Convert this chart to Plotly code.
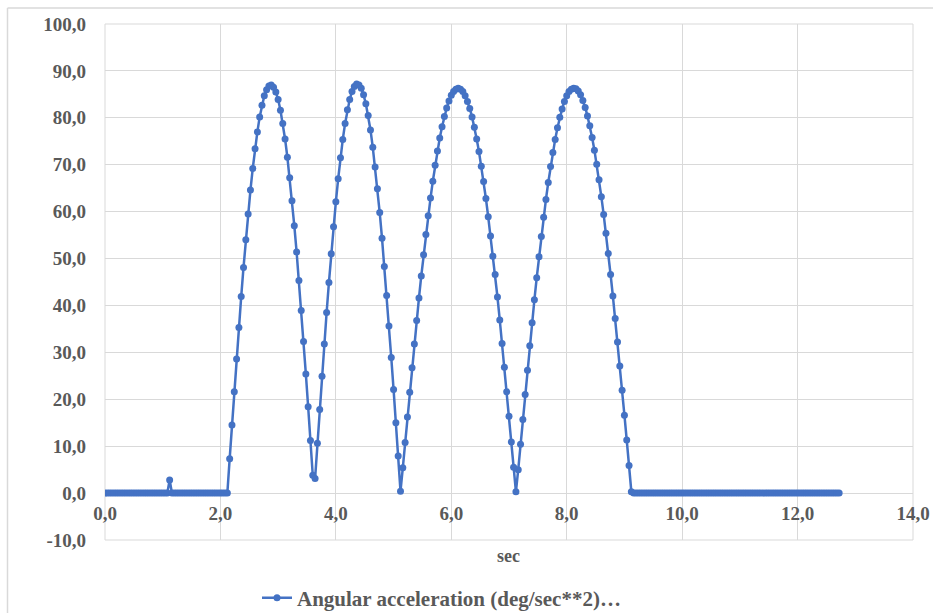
import plotly.graph_objects as go

# Sampling interval of the logged signal (seconds)
SAMPLE_STEP = 0.04

# Angular acceleration readings (deg/sec**2), one list per segment of the run
idle_start = [0.0] * 28
glitch = [2.8]
idle_before_motion = [0.0] * 25

swing_1 = [7.3, 14.5, 21.6, 28.6, 35.3, 41.9, 48.1, 54.0, 59.5, 64.6,
           69.2, 73.4, 77.0, 80.2, 82.7, 84.7, 86.0, 86.8, 87.0, 86.5,
           85.5, 83.9, 81.6, 78.8, 75.5, 71.6, 67.2, 62.3, 57.0, 51.4,
           45.3, 38.9, 32.3, 25.4, 18.4, 11.2, 3.8]

swing_2 = [3.1, 10.6, 17.8, 24.9, 31.8, 38.5, 44.9, 51.0, 56.8, 62.1,
           67.0, 71.5, 75.4, 78.8, 81.7, 83.9, 85.6, 86.7, 87.2, 87.0,
           86.3, 84.9, 83.0, 80.5, 77.4, 73.7, 69.5, 64.9, 59.8, 54.3,
           48.3, 42.1, 35.6, 28.9, 22.1, 15.0, 7.9]

trough_2 = [0.4]

swing_3 = [5.4, 10.8, 16.2, 21.5, 26.7, 31.8, 36.8, 41.6, 46.3, 50.8,
           55.1, 59.1, 62.9, 66.5, 69.9, 72.9, 75.7, 78.1, 80.3, 82.1,
           83.6, 84.8, 85.6, 86.1, 86.3, 86.1, 85.6, 84.7, 83.5, 82.0,
           80.2, 78.0, 75.5, 72.8, 69.7, 66.4, 62.8, 58.9, 54.8, 50.5,
           46.6, 41.8, 36.9, 31.9, 26.8, 21.6, 16.4, 10.9, 5.5]

trough_3 = [0.3]

swing_4 = [5.0, 10.4, 15.7, 21.0, 26.2, 31.4, 36.3, 41.2, 45.9, 50.4,
           54.7, 58.8, 62.6, 66.2, 69.6, 72.6, 75.4, 77.9, 80.1, 81.9,
           83.5, 84.7, 85.6, 86.1, 86.3, 86.2, 85.7, 84.9, 83.7, 82.2,
           80.4, 78.3, 75.8, 73.1, 70.1, 66.8, 63.2, 59.4, 55.4, 51.1,
           46.6, 42.0, 37.2, 32.2, 27.1, 21.9, 16.6, 11.3, 5.9]

stop = [0.3]
idle_end = [0.0] * 90

accel = (idle_start + glitch + idle_before_motion + swing_1 + swing_2 + trough_2
         + swing_3 + trough_3 + swing_4 + stop + idle_end)
time_s = [round(i * SAMPLE_STEP, 2) for i in range(len(accel))]

# Axis ticks and labels
x_ticks = [0, 2, 4, 6, 8, 10, 12, 14]
x_labels = ["0,0", "2,0", "4,0", "6,0", "8,0", "10,0", "12,0", "14,0"]
y_ticks = [-10, 0, 10, 20, 30, 40, 50, 60, 70, 80, 90, 100]
y_labels = ["-10,0", "0,0", "10,0", "20,0", "30,0", "40,0", "50,0",
            "60,0", "70,0", "80,0", "90,0", "100,0"]

series_name = "Angular acceleration (deg/sec**2)…"
x_title = "sec"

BLUE = "#4472C4"
GRID = "#d9d9d9"
TEXT = "#595959"
FONT = "Liberation Serif"

W, H = 933, 613
L, R, T, B = 105, 20, 24, 73
PW, PH = W - L - R, H - T - B


def px_x(px):
    return (px - L) / PW


def px_y(py):
    return (H - B - py) / PH


fig = go.Figure()
fig.add_trace(go.Scatter(
    x=time_s, y=accel, name=series_name, mode="lines+markers",
    line=dict(color=BLUE, width=2.5),
    marker=dict(color=BLUE, size=7),
))

fig.update_layout(
    width=W, height=H,
    margin=dict(l=L, r=R, t=T, b=B, autoexpand=False),
    paper_bgcolor="white", plot_bgcolor="white",
    showlegend=True,
    legend=dict(
        orientation="h", x=px_x(257), xanchor="left",
        y=px_y(598), yanchor="middle",
        font=dict(family=FONT, size=21, color=TEXT, weight="bold"),
        bgcolor="rgba(0,0,0,0)",
    ),
    xaxis=dict(
        range=[0, 14], tickvals=x_ticks, ticktext=x_labels,
        showgrid=True, gridcolor=GRID, gridwidth=1, zeroline=False,
        anchor="free", position=10 / 110, ticks="", ticklabelstandoff=7,
        tickfont=dict(family=FONT, size=19, color=TEXT, weight="bold"),
    ),
    yaxis=dict(
        range=[-10, 100], tickvals=y_ticks, ticktext=y_labels,
        showgrid=True, gridcolor=GRID, gridwidth=1, zeroline=False,
        ticks="", ticklabelstandoff=18,
        tickfont=dict(family=FONT, size=19, color=TEXT, weight="bold"),
    ),
    annotations=[dict(
        text=x_title, xref="paper", yref="paper",
        x=px_x(508), y=px_y(556), xanchor="center", yanchor="middle",
        showarrow=False,
        font=dict(family=FONT, size=18, color=TEXT, weight="bold"),
    )],
    shapes=[
        # plot-area frame
        dict(type="rect", xref="paper", yref="paper", x0=0, x1=1, y0=0, y1=1,
             line=dict(color=GRID, width=1), layer="below"),
        # chart-area frame, left and top edges
        dict(type="line", xref="paper", yref="paper",
             x0=px_x(7.5), x1=px_x(7.5), y0=px_y(8), y1=px_y(H + 5),
             line=dict(color=GRID, width=1.5)),
        dict(type="line", xref="paper", yref="paper",
             x0=px_x(7.5), x1=px_x(W + 5), y0=px_y(8), y1=px_y(8),
             line=dict(color=GRID, width=1.5)),
    ],
)

fig.write_html("out.html")
